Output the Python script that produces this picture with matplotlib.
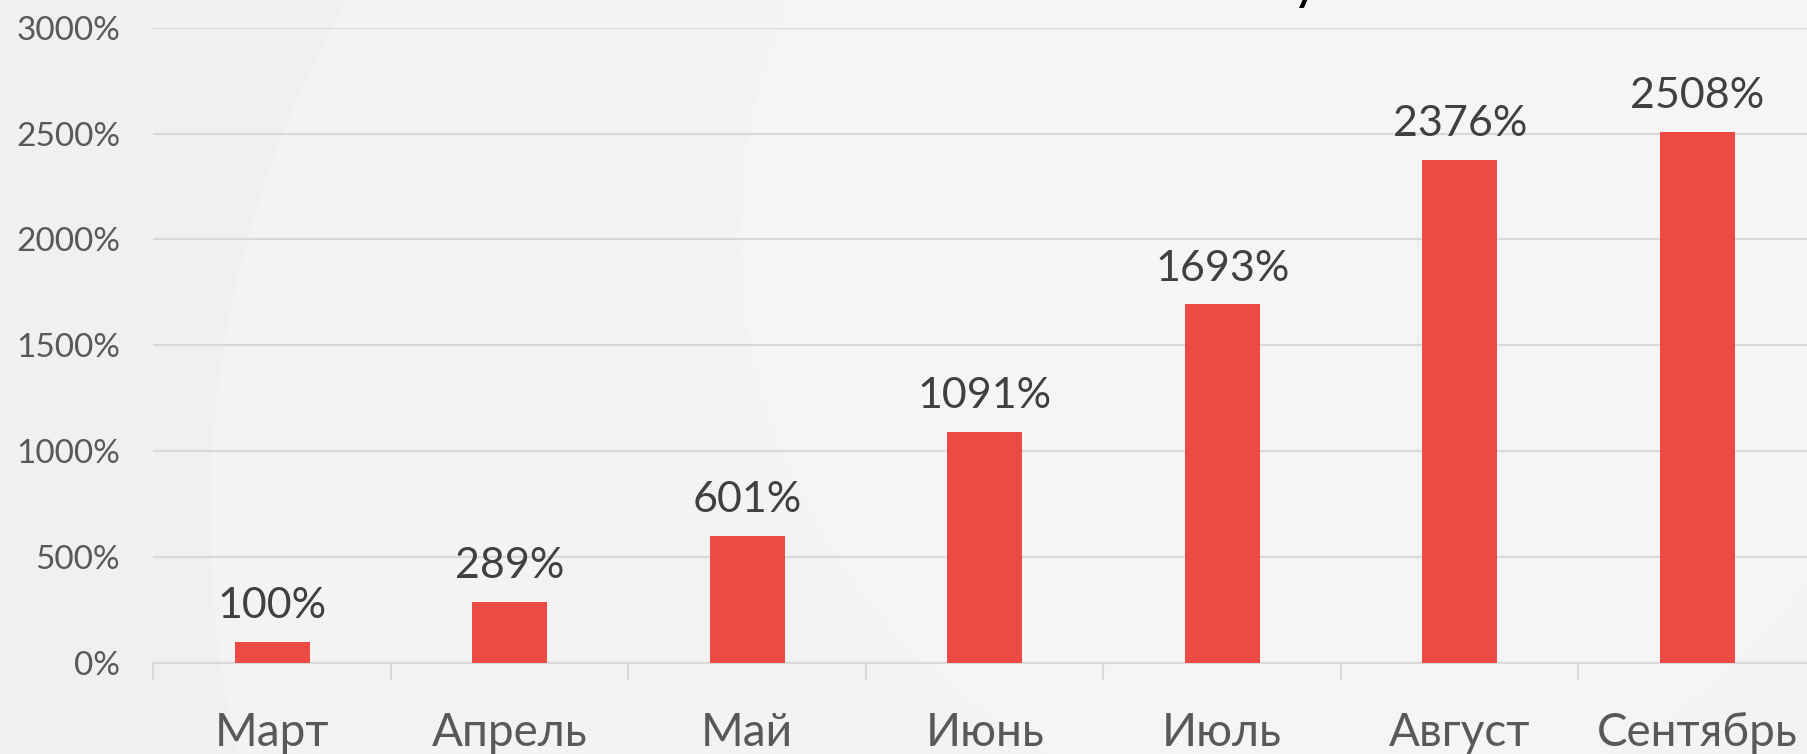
import matplotlib
matplotlib.use("Agg")
from matplotlib import pyplot as plt
from matplotlib.patches import Circle
import numpy as np

months = ["Март", "Апрель", "Май", "Июнь", "Июль", "Август", "Сентябрь"]
growth = [100, 289, 601, 1091, 1693, 2376, 2508]
y_ticks = [0, 500, 1000, 1500, 2000, 2500, 3000]
y_tick_labels = [str(v) + "%" for v in y_ticks]

BAR_COLOR = "#ec4a43"
GRID_COLOR = "#d9d9d9"
TICK_TEXT = "#595959"
LABEL_TEXT = "#404040"

plt.rcParams["font.family"] = ["Lato", "Open Sans", "DejaVu Sans"]

fig = plt.figure(figsize=(18.08, 7.54), dpi=100)
fig.patch.set_facecolor("#f0f0f0")

# soft decorative background circles
for cx, cy, r, c in [(13.3, 5.2, 5.9, "#f5f5f5"), (13.6, 5.4, 5.0, "#f8f8f8"),
                     (12.4, 2.4, 10.3, "#f3f3f3")][::-1]:
    fig.patches.append(Circle((cx, cy), r, transform=fig.dpi_scale_trans,
                              facecolor=c, edgecolor="none", zorder=-10))

# cut-off title glyph at the very top
fig.text(1306 / 1808, 1.002, "у", fontsize=40, color="black",
         ha="center", va="baseline")

ax = fig.add_axes([153.4 / 1808, 91 / 754, (1816 - 153.4) / 1808, 635.3 / 754])
ax.patch.set_alpha(0)

x = np.arange(len(months))
bars = ax.bar(x, growth, width=0.315, color=BAR_COLOR, zorder=3)

for xi, v in zip(x, growth):
    ax.annotate(str(v) + "%", (xi, v), xytext=(0, 17), textcoords="offset points",
                ha="center", va="baseline", fontsize=31, color=LABEL_TEXT)

ax.set_xlim(-0.5, len(months) - 0.5)
ax.set_ylim(0, 3000)

ax.set_yticks(y_ticks)
ax.set_yticklabels(y_tick_labels)
ax.tick_params(axis="y", length=0, pad=24, labelsize=24, labelcolor=TICK_TEXT)
ax.yaxis.grid(True, color=GRID_COLOR, linewidth=1.6, zorder=0)

ax.set_xticks(x)
ax.set_xticklabels(months)
ax.tick_params(axis="x", which="major", length=0, pad=35, labelsize=33,
               labelcolor=TICK_TEXT)
ax.set_xticks(np.arange(len(months) + 1) - 0.5, minor=True)
ax.tick_params(axis="x", which="minor", length=12, width=1.6, color=GRID_COLOR)

for side in ["top", "right", "left"]:
    ax.spines[side].set_visible(False)
ax.spines["bottom"].set_color(GRID_COLOR)
ax.spines["bottom"].set_linewidth(1.6)

fig.savefig("out.png", dpi=100, facecolor=fig.get_facecolor())
